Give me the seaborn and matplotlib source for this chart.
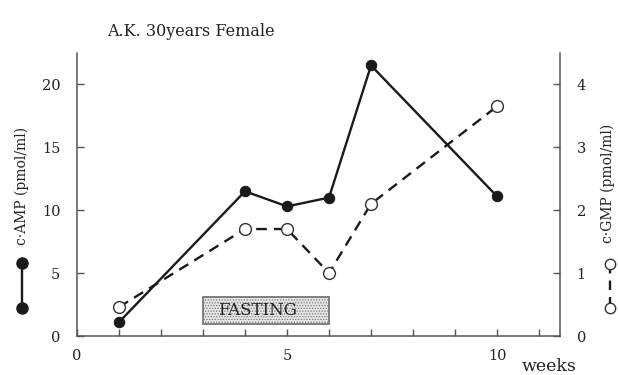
import matplotlib
matplotlib.use("Agg")
import matplotlib.pyplot as plt
from matplotlib.lines import Line2D
from matplotlib.patches import Rectangle
import seaborn as sns
import pandas as pd

# Measurements per week
weeks = [1, 4, 5, 6, 7, 10]
camp = [1.1, 11.5, 10.3, 11.0, 21.5, 11.1]      # c·AMP, pmol/ml
cgmp = [0.46, 1.7, 1.7, 1.0, 2.1, 3.65]         # c·GMP, pmol/ml
fasting_weeks = (3, 6)
x_ticklabels = ["0", "5", "10"]

sns.set_style("ticks")
plt.rcParams["font.family"] = ["DejaVu Serif"]
plt.rcParams["hatch.color"] = "#9a9a9a"
plt.rcParams["hatch.linewidth"] = 0.6

df = pd.DataFrame({"week": weeks, "camp": camp, "cgmp": cgmp})

ink = "#1a1a1a"
txt = "#222222"
axis_col = "#555555"

fig = plt.figure(figsize=(6.18, 3.75), dpi=100)
ax = fig.add_axes([0.1246, 0.104, 0.7816, 0.755])
ax2 = ax.twinx()

sns.lineplot(data=df, x="week", y="camp", ax=ax, color=ink, lw=1.7,
             marker="o", markersize=7.5, markeredgecolor=ink,
             markerfacecolor=ink, zorder=3)
sns.lineplot(data=df, x="week", y="cgmp", ax=ax2, color=ink, lw=1.7,
             linestyle=(0, (4.5, 3)), marker="o", markersize=8.5,
             markeredgecolor="#333333", markerfacecolor="white",
             markeredgewidth=1.0, zorder=3)

ax.set_xlim(0, 11.5)
ax.set_ylim(0, 22.5)
ax2.set_ylim(0, 4.5)

ax.set_xticks(range(0, 12))
ax.set_xticklabels([x_ticklabels[i // 5] if i % 5 == 0 else "" for i in range(12)])
ax.set_yticks([0, 5, 10, 15, 20])
ax2.set_yticks([0, 1, 2, 3, 4])

for a in (ax, ax2):
    a.set_xlabel("")
    a.set_ylabel("")
    a.tick_params(direction="in", length=5, width=1, color=axis_col,
                  labelsize=10.5, labelcolor=txt, pad=12)
    a.spines["top"].set_visible(False)
    for s in ("left", "right", "bottom"):
        a.spines[s].set_color(axis_col)
        a.spines[s].set_linewidth(1.1)
ax.spines["right"].set_visible(False)
ax2.spines["left"].set_visible(False)
ax2.spines["bottom"].set_visible(False)
ax.tick_params(axis="x", pad=9)

# Fasting period band
ax.add_patch(Rectangle((fasting_weeks[0], 0.95), fasting_weeks[1] - fasting_weeks[0], 2.15,
                       facecolor="#e6e6e6", edgecolor="#777777", lw=1.3,
                       hatch="......", zorder=2))
ax.text(sum(fasting_weeks) / 2 - 0.2, 2.0, "FASTING", ha="center", va="center",
        fontsize=12, color=txt, zorder=4)

fig.text(0.173, 0.915, "A.K. 30years Female", fontsize=11.5, color=txt,
         ha="left", va="center")
fig.text(0.845, 0.022, "weeks", fontsize=12.5, color=txt, ha="left", va="center")

fig.text(0.036, 0.505, "c·AMP (pmol/ml)", rotation=90, fontsize=10,
         color=txt, ha="center", va="center")
fig.text(0.984, 0.51, "c·GMP (pmol/ml)", rotation=90, fontsize=10,
         color=txt, ha="center", va="center")

# Series keys beside the axis titles
fig.add_artist(Line2D([0.036, 0.036], [1 - 263 / 375, 1 - 308 / 375], color=ink, lw=1.7,
                      marker="o", markersize=8, markerfacecolor=ink))
fig.add_artist(Line2D([0.987, 0.987], [1 - 264 / 375, 1 - 308 / 375], color=ink, lw=1.7,
                      linestyle=(0, (4, 3)), marker="o", markersize=7.5,
                      markerfacecolor="white", markeredgecolor="#333333"))

fig.savefig("out.png", dpi=100, facecolor="white")
